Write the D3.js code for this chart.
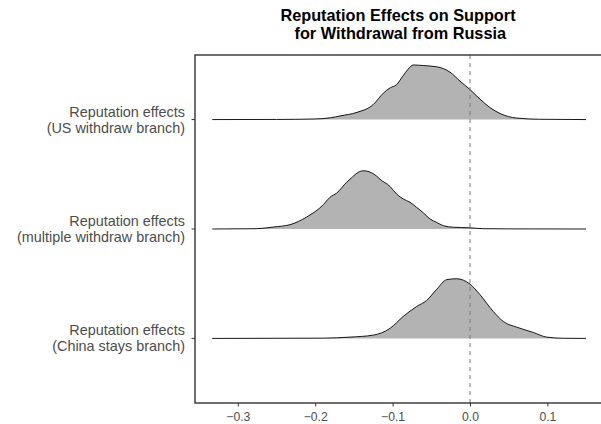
<!DOCTYPE html>
<html>
<head>
<meta charset="utf-8">
<script src="https://cdn.jsdelivr.net/npm/d3@7"></script>
<style>
  html, body { margin: 0; padding: 0; background: #fff; }
  svg { display: block; font-family: "Liberation Sans", Arial, sans-serif; }
</style>
</head>
<body>
<div id="chart"></div>
<script>
// ---- data ----
const titleLines = ["Reputation Effects on Support", " for Withdrawal from Russia"];
const categories = ["US withdraw", "multiple withdraw", "China stays"];
const categoryLabels = [
  ["Reputation effects", "(US withdraw branch)"],
  ["Reputation effects", "(multiple withdraw branch)"],
  ["Reputation effects", "(China stays branch)"]
];
const xTicks = [-0.3, -0.2, -0.1, 0.0, 0.1];
const refLine = 0;

// density estimates (x, density)
const usX = [-0.333, -0.25, -0.20, -0.18, -0.168, -0.146, -0.125, -0.112, -0.103, -0.095, -0.087, -0.080, -0.0733, -0.0603, -0.043, -0.0258, -0.0129, 0, 0.0129, 0.0258, 0.039, 0.0603, 0.09, 0.15];
const usD = [0, 0.02, 0.1, 0.3, 0.6, 1.2, 2.5, 4.4, 5.3, 5.8, 7.2, 8.4, 9.1, 9.0, 8.8, 7.9, 6.4, 5.0, 3.4, 2.0, 1.0, 0.25, 0.05, 0];

const multX = [-0.333, -0.2756, -0.2541, -0.2326, -0.211, -0.1895, -0.181, -0.1722, -0.1593, -0.155, -0.142, -0.1378, -0.1335, -0.1205, -0.1163, -0.1034, -0.0947, -0.0862, -0.0775, -0.0689, -0.0603, -0.0517, -0.043, -0.0345, -0.0216, 0, 0.0172, 0.05, 0.15];
const multD = [0, 0.05, 0.33, 0.72, 2.0, 4.05, 5.27, 6.0, 7.8, 8.3, 9.6, 9.7, 9.65, 8.8, 8.3, 7.1, 5.8, 5.0, 4.45, 3.6, 2.7, 1.67, 1.1, 0.55, 0.3, 0.2, 0.05, 0.02, 0];

const chinaX = [-0.333, -0.1895, -0.155, -0.125, -0.1034, -0.0862, -0.0689, -0.056, -0.043, -0.030, -0.0172, 0, 0.0129, 0.030, 0.043, 0.0603, 0.0818, 0.099, 0.12, 0.15];
const chinaD = [0, 0.05, 0.22, 0.55, 1.67, 3.67, 5.33, 6.33, 8.2, 9.8, 9.95, 9.05, 7.3, 4.5, 2.83, 1.88, 1.0, 0.22, 0.03, 0];

const seriesX = [usX, multX, chinaX];
const seriesD = [usD, multD, chinaD];

// ---- layout ----
const W = 601, H = 424;
const panel = { left: 195, top: 55, right: 601, bottom: 403 };

const svg = d3.select("#chart").append("svg")
  .attr("width", W).attr("height", H);

const x = d3.scaleLinear()
  .domain([(panel.left - 470) / 774, (panel.right - 470) / 774])
  .range([panel.left, panel.right]);

const y = d3.scalePoint()
  .domain(categories)
  .range([panel.top, panel.bottom])
  .padding(0.59);

const h = d3.scaleLinear().domain([0, 10]).range([0, 60]);

svg.append("clipPath").attr("id", "clip")
  .append("rect").attr("x", panel.left).attr("y", panel.top)
  .attr("width", panel.right - panel.left + 10).attr("height", panel.bottom - panel.top);

const g = svg.append("g").attr("clip-path", "url(#clip)");

// ridges
categories.forEach((c, i) => {
  const pts = seriesX[i].map((v, j) => [v, seriesD[i][j]]);
  const base = y(c);
  const area = d3.area()
    .x(d => x(d[0]))
    .y0(base)
    .y1(d => base - h(d[1]))
    .curve(d3.curveMonotoneX);
  const line = d3.line()
    .x(d => x(d[0]))
    .y(d => base - h(d[1]))
    .curve(d3.curveMonotoneX);
  g.append("path").attr("d", area(pts))
    .attr("fill", "#B3B3B3").attr("stroke", "none");
  g.append("path").attr("d", line(pts))
    .attr("fill", "none").attr("stroke", "#000").attr("stroke-width", 0.9);
});

// reference dashed line
g.append("line")
  .attr("x1", x(refLine)).attr("x2", x(refLine))
  .attr("y1", panel.top).attr("y2", panel.bottom)
  .attr("stroke", "#777").attr("stroke-width", 1)
  .attr("stroke-dasharray", "4,4");

// panel border
svg.append("rect")
  .attr("x", panel.left).attr("y", panel.top)
  .attr("width", panel.right - panel.left + 10).attr("height", panel.bottom - panel.top)
  .attr("fill", "none").attr("stroke", "#333").attr("stroke-width", 1.4);

// x axis
const xAxis = svg.append("g")
  .attr("transform", `translate(0,${panel.bottom})`)
  .call(d3.axisBottom(x).tickValues(xTicks).tickFormat(d3.format(".1f")).tickSize(3.5).tickPadding(5.5));
xAxis.select(".domain").remove();
xAxis.selectAll(".tick line").attr("stroke", "#333");
xAxis.selectAll(".tick text").attr("fill", "#4D4D4D").attr("font-size", 12.2);

// y axis ticks and labels
const yAxis = svg.append("g");
categories.forEach((c, i) => {
  yAxis.append("line")
    .attr("x1", panel.left - 3.5).attr("x2", panel.left)
    .attr("y1", y(c)).attr("y2", y(c))
    .attr("stroke", "#333");
  const t = yAxis.append("text")
    .attr("text-anchor", "end")
    .attr("fill", "#4D4D4D")
    .attr("font-size", 14.4);
  categoryLabels[i].forEach((ln, k) => {
    t.append("tspan").attr("x", panel.left - 10)
      .attr("y", y(c) + (k === 0 ? -8 : 8))
      .attr("dy", "0.35em")
      .text(ln);
  });
});

// title
const title = svg.append("text")
  .attr("text-anchor", "middle")
  .attr("font-weight", "bold")
  .attr("font-size", 16.3)
  .attr("fill", "#000")
  .style("white-space", "pre");
titleLines.forEach((ln, k) => {
  title.append("tspan")
    .attr("x", (panel.left + panel.right) / 2)
    .attr("y", 15.5 + k * 18)
    .attr("dy", "0.35em")
    .text(ln);
});
</script>
</body>
</html>
